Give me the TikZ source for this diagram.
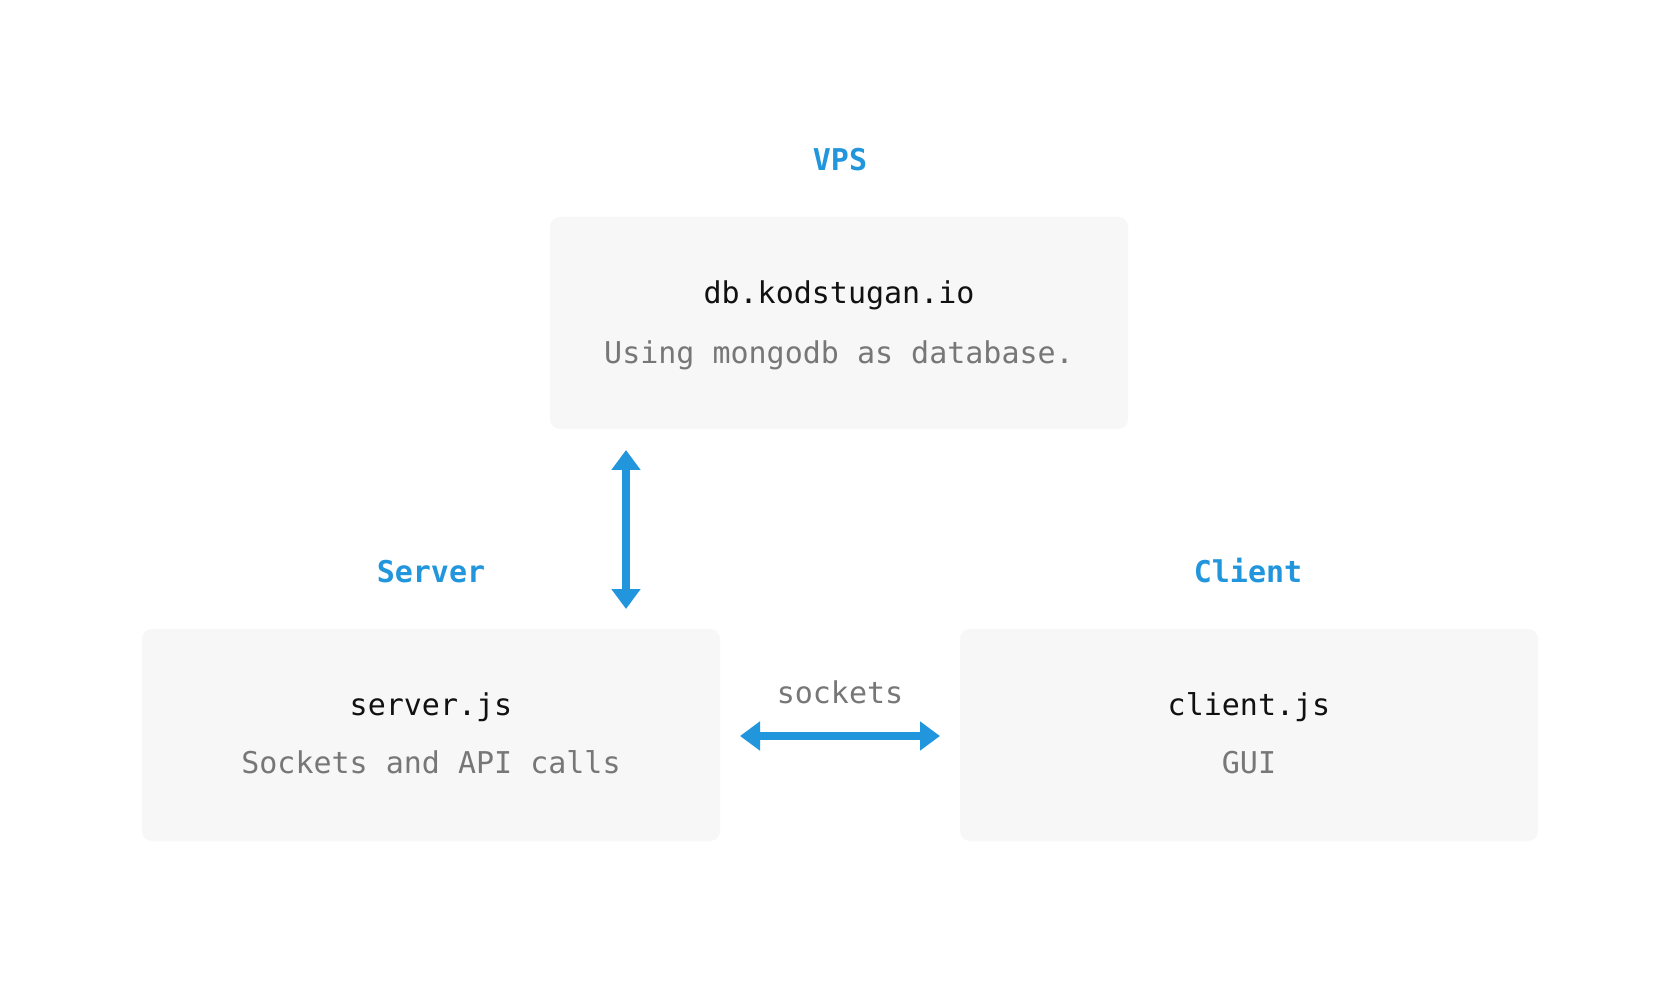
\documentclass[tikz,border=0pt]{standalone}
\usepackage{fontspec}
\setmonofont{DejaVu Sans Mono}
\usetikzlibrary{arrows.meta}
\definecolor{accent}{HTML}{2196DC}
\definecolor{boxfill}{HTML}{F7F7F7}
\definecolor{subgray}{HTML}{777777}
\definecolor{titleblack}{HTML}{111111}
\tikzset{
  box/.style={fill=boxfill, draw=none, rounded corners=5pt, minimum width=289pt, minimum height=106pt, inner sep=0pt},
  head/.style={font=\ttfamily\bfseries\fontsize{15}{18}\selectfont, text=accent, anchor=base, inner sep=0pt},
  title/.style={font=\ttfamily\fontsize{15}{18}\selectfont, text=titleblack, anchor=base, inner sep=0pt},
  sub/.style={font=\ttfamily\fontsize{15}{18}\selectfont, text=subgray, anchor=base, inner sep=0pt},
  link/.style={draw=accent, line width=4pt, {Triangle[width=14pt,length=10pt]}-{Triangle[width=14pt,length=10pt]}}
}
\begin{document}
\begin{tikzpicture}[x=0.5pt,y=-0.5pt]
\useasboundingbox[fill=white] (0,0) rectangle (1678,984);
% boxes
\node[box] (vps) at (839,323) {};
\node[box] (server) at (431,735) {};
\node[box] (client) at (1249,735) {};
% headings
\node[head] (vpsh) at (840,171) {VPS};
\node[head] (serverh) at (431,582) {Server};
\node[head] (clienth) at (1248,582) {Client};
% texts
\node[title] (vpst) at (839,304) {db.kodstugan.io};
\node[sub] (vpss) at (839,364) {Using mongodb as database.};
\node[title] (servert) at (431,715) {server.js};
\node[sub] (servers) at (431,773) {Sockets and API calls};
\node[title] (clientt) at (1249,715) {client.js};
\node[sub] (clients) at (1249,773) {GUI};
\node[sub] (sockl) at (840,703) {sockets};
% connectors
\coordinate (va) at (626,450);
\coordinate (vb) at (626,609);
\coordinate (ha) at (740,736);
\coordinate (hb) at (940,736);
\draw[link] (va) -- (vb);
\draw[link] (ha) -- (hb);
\end{tikzpicture}
\end{document}
